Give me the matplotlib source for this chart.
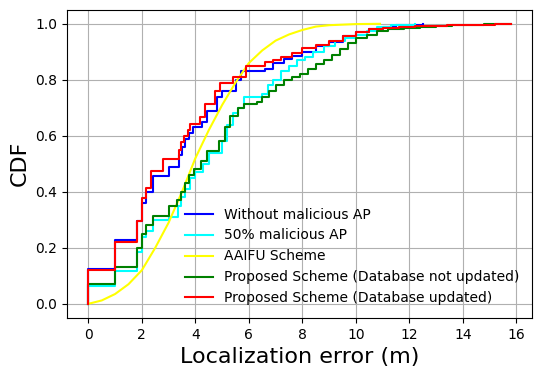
import matplotlib

matplotlib.use("Agg")
import matplotlib.pyplot as plt  # noqa: E402

# step CDFs: error (m) -> cumulative fraction
no_mal_x = [0, 0, 1.0, 1.8, 2.0, 2.17, 2.4, 3.0, 3.4, 3.5, 3.6, 3.75, 3.9, 4.25, 4.45, 4.8, 5.0,
            5.5, 5.7, 6.6, 6.9, 7.3, 7.6, 8.0, 8.5, 9.0, 9.5, 10.0, 10.5, 11.0, 11.5, 12.5]
no_mal_y = [0, 0.125, 0.228, 0.295, 0.36, 0.40, 0.455, 0.49, 0.53, 0.56, 0.59, 0.61, 0.63, 0.65,
            0.69, 0.74, 0.76, 0.80, 0.83, 0.84, 0.86, 0.875, 0.885, 0.90, 0.92, 0.935, 0.955,
            0.97, 0.98, 0.99, 0.995, 1.0]

half_mal_x = [0, 0, 1.0, 1.8, 2.0, 2.15, 2.4, 3.0, 3.35, 3.45, 3.6, 3.8, 4.0, 4.3, 4.5, 5.0, 5.2,
              5.4, 5.6, 5.8, 6.5, 6.7, 6.9, 7.2, 7.5, 7.8, 8.1, 8.4, 8.8, 9.2, 9.6, 10.0, 10.4,
              10.8, 11.3, 12.2]
half_mal_y = [0, 0.065, 0.117, 0.186, 0.24, 0.26, 0.30, 0.31, 0.35, 0.38, 0.41, 0.45, 0.47, 0.50,
              0.54, 0.58, 0.64, 0.68, 0.70, 0.74, 0.75, 0.78, 0.80, 0.83, 0.85, 0.87, 0.88, 0.90,
              0.92, 0.94, 0.95, 0.96, 0.975, 0.99, 0.995, 1.0]

aaifu_x = [0, 0.5, 1, 1.5, 2, 2.5, 3, 3.5, 4, 4.5, 5, 5.5, 6, 6.5, 7, 7.5, 8, 8.5, 9, 10, 10.9]
aaifu_y = [0, 0.012, 0.035, 0.07, 0.12, 0.2, 0.29, 0.40, 0.52, 0.62, 0.71, 0.79, 0.86, 0.905,
           0.94, 0.962, 0.978, 0.99, 0.995, 0.999, 1.0]

not_upd_x = [0, 0, 1.0, 1.8, 2.0, 2.15, 2.4, 3.0, 3.3, 3.45, 3.6, 3.75, 3.95, 4.2, 4.45, 4.9, 5.1,
             5.3, 5.6, 5.8, 6.3, 6.5, 6.75, 7.0, 7.3, 7.6, 7.9, 8.2, 8.5, 8.8, 9.1, 9.4, 9.7,
             10.0, 10.4, 10.8, 11.2, 11.8, 12.4, 13.0, 13.6, 14.2, 14.8, 15.4, 15.8]
not_upd_y = [0, 0.07, 0.13, 0.20, 0.25, 0.28, 0.315, 0.35, 0.37, 0.40, 0.43, 0.46, 0.48, 0.51,
             0.545, 0.58, 0.63, 0.67, 0.70, 0.715, 0.72, 0.74, 0.76, 0.78, 0.80, 0.81, 0.82,
             0.84, 0.855, 0.87, 0.89, 0.91, 0.93, 0.95, 0.96, 0.975, 0.98, 0.986, 0.99, 0.993,
             0.995, 0.997, 0.998, 0.999, 1.0]

upd_x = [0, 0, 1.0, 1.8, 2.0, 2.17, 2.33, 2.8, 3.38, 3.46, 3.56, 3.71, 3.81, 4.16, 4.36, 4.74,
         4.92, 5.4, 5.9, 6.6, 6.9, 7.2, 7.6, 8.0, 8.5, 9.0, 9.5, 10.0, 10.5, 11.0, 11.6, 12.2,
         12.8, 13.4, 14.0, 14.6, 15.2, 15.8]
upd_y = [0, 0.12, 0.22, 0.295, 0.378, 0.414, 0.476, 0.516, 0.55, 0.577, 0.60, 0.619, 0.643,
         0.667, 0.712, 0.759, 0.788, 0.81, 0.85, 0.862, 0.872, 0.882, 0.895, 0.912, 0.925,
         0.94, 0.958, 0.972, 0.98, 0.985, 0.988, 0.991, 0.993, 0.995, 0.996, 0.997, 0.999, 1.0]

fig = plt.figure(figsize=(5.42, 3.77), dpi=100)
ax = fig.add_axes([0.124, 0.157, 0.858, 0.817])
ax.step(no_mal_x, no_mal_y, where="post", color="blue", lw=1.5, label="Without malicious AP")
ax.step(half_mal_x, half_mal_y, where="post", color="cyan", lw=1.5, label="50% malicious AP")
ax.plot(aaifu_x, aaifu_y, color="yellow", lw=1.5, label="AAIFU Scheme")
ax.step(not_upd_x, not_upd_y, where="post", color="green", lw=1.5,
        label="Proposed Scheme (Database not updated)")
ax.step(upd_x, upd_y, where="post", color="red", lw=1.5,
        label="Proposed Scheme (Database updated)")
ax.set_xticks(range(0, 17, 2))
ax.grid(True)
ax.set_xlabel("Localization error (m)", fontsize=16)
ax.set_ylabel("CDF", fontsize=16)
ax.legend(loc="lower right", frameon=False, fontsize=10)
fig.savefig("out.png", dpi=100)
plt.close(fig)
